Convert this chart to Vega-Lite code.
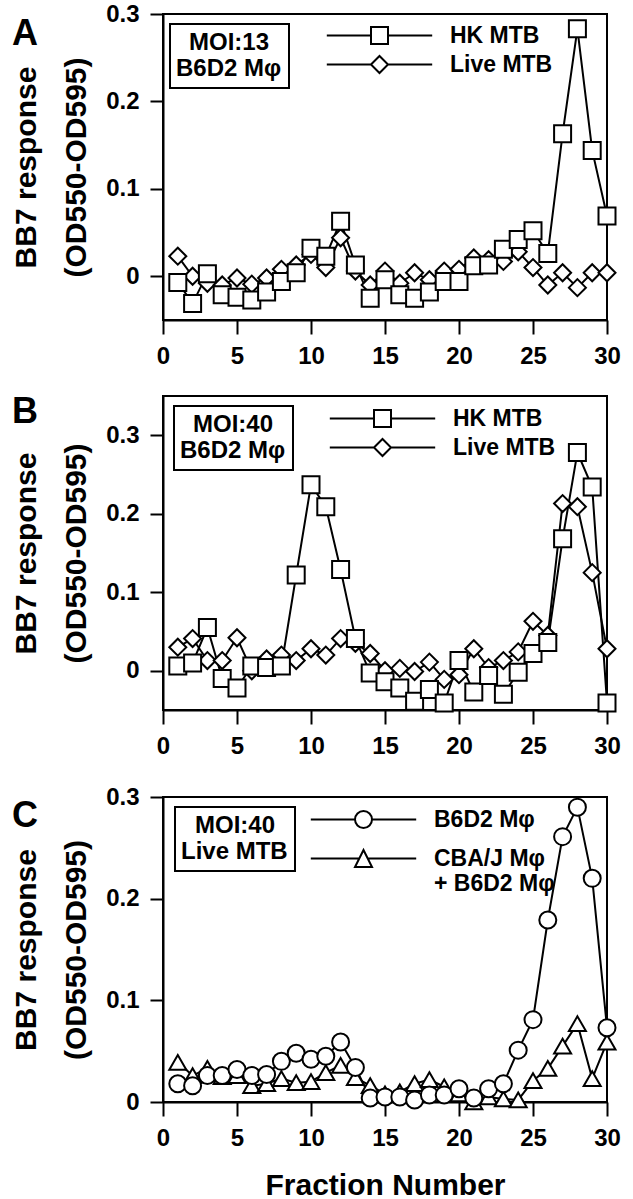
{
"$schema": "https://vega.github.io/schema/vega-lite/v6.json",
"background": "white",
"padding": {"top": 1, "left": 10, "right": 0, "bottom": 0},
"spacing": 25,
"config": {
  "font": "Liberation Sans",
  "view": {"stroke": "black", "strokeWidth": 2},
  "axis": {"domainColor": "black", "domainWidth": 2, "tickColor": "black", "tickWidth": 2, "labelColor": "black", "labelFont": "Liberation Sans", "labelFontSize": 24, "labelFontWeight": "bold", "titleFont": "Liberation Sans", "titleFontSize": 30, "titleFontWeight": "bold", "titleColor": "black", "grid": false, "labelFlush": false, "labelOverlap": false},
  "axisX": {"tickSize": 14, "labelPadding": 10},
  "axisY": {"tickSize": 13, "labelPadding": 11, "titlePadding": 14, "titleLineHeight": 50},
  "legend": {"labelFont": "Liberation Sans", "titleFont": "Liberation Sans", "labelColor": "black", "titleColor": "black", "labelFontWeight": "bold", "titleFontWeight": "bold", "strokeWidth": 2}
},
"datasets": {
  "panelA": [
    {"fraction": 1, "series": "Live MTB", "response": 0.023}, {"fraction": 2, "series": "Live MTB", "response": 0.000}, {"fraction": 3, "series": "Live MTB", "response": -0.008}, {"fraction": 4, "series": "Live MTB", "response": -0.010}, {"fraction": 5, "series": "Live MTB", "response": -0.002}, {"fraction": 6, "series": "Live MTB", "response": -0.009}, {"fraction": 7, "series": "Live MTB", "response": -0.002}, {"fraction": 8, "series": "Live MTB", "response": 0.008}, {"fraction": 9, "series": "Live MTB", "response": 0.013}, {"fraction": 10, "series": "Live MTB", "response": 0.025},
    {"fraction": 11, "series": "Live MTB", "response": 0.010}, {"fraction": 12, "series": "Live MTB", "response": 0.044}, {"fraction": 13, "series": "Live MTB", "response": 0.006}, {"fraction": 14, "series": "Live MTB", "response": -0.010}, {"fraction": 15, "series": "Live MTB", "response": 0.006}, {"fraction": 16, "series": "Live MTB", "response": -0.008}, {"fraction": 17, "series": "Live MTB", "response": 0.004}, {"fraction": 18, "series": "Live MTB", "response": -0.004}, {"fraction": 19, "series": "Live MTB", "response": 0.006}, {"fraction": 20, "series": "Live MTB", "response": 0.008},
    {"fraction": 21, "series": "Live MTB", "response": 0.021}, {"fraction": 22, "series": "Live MTB", "response": 0.019}, {"fraction": 23, "series": "Live MTB", "response": 0.017}, {"fraction": 24, "series": "Live MTB", "response": 0.028}, {"fraction": 25, "series": "Live MTB", "response": 0.010}, {"fraction": 26, "series": "Live MTB", "response": -0.010}, {"fraction": 27, "series": "Live MTB", "response": 0.004}, {"fraction": 28, "series": "Live MTB", "response": -0.013}, {"fraction": 29, "series": "Live MTB", "response": 0.004}, {"fraction": 30, "series": "Live MTB", "response": 0.004},
    {"fraction": 1, "series": "HK MTB", "response": -0.007}, {"fraction": 2, "series": "HK MTB", "response": -0.031}, {"fraction": 3, "series": "HK MTB", "response": 0.003}, {"fraction": 4, "series": "HK MTB", "response": -0.021}, {"fraction": 5, "series": "HK MTB", "response": -0.024}, {"fraction": 6, "series": "HK MTB", "response": -0.027}, {"fraction": 7, "series": "HK MTB", "response": -0.018}, {"fraction": 8, "series": "HK MTB", "response": -0.006}, {"fraction": 9, "series": "HK MTB", "response": 0.004}, {"fraction": 10, "series": "HK MTB", "response": 0.032},
    {"fraction": 11, "series": "HK MTB", "response": 0.023}, {"fraction": 12, "series": "HK MTB", "response": 0.063}, {"fraction": 13, "series": "HK MTB", "response": 0.013}, {"fraction": 14, "series": "HK MTB", "response": -0.025}, {"fraction": 15, "series": "HK MTB", "response": -0.004}, {"fraction": 16, "series": "HK MTB", "response": -0.021}, {"fraction": 17, "series": "HK MTB", "response": -0.025}, {"fraction": 18, "series": "HK MTB", "response": -0.018}, {"fraction": 19, "series": "HK MTB", "response": -0.006}, {"fraction": 20, "series": "HK MTB", "response": -0.006},
    {"fraction": 21, "series": "HK MTB", "response": 0.012}, {"fraction": 22, "series": "HK MTB", "response": 0.013}, {"fraction": 23, "series": "HK MTB", "response": 0.031}, {"fraction": 24, "series": "HK MTB", "response": 0.042}, {"fraction": 25, "series": "HK MTB", "response": 0.052}, {"fraction": 26, "series": "HK MTB", "response": 0.026}, {"fraction": 27, "series": "HK MTB", "response": 0.163}, {"fraction": 28, "series": "HK MTB", "response": 0.283}, {"fraction": 29, "series": "HK MTB", "response": 0.144}, {"fraction": 30, "series": "HK MTB", "response": 0.069}
  ],
  "panelB": [
    {"fraction": 1, "series": "Live MTB", "response": 0.030}, {"fraction": 2, "series": "Live MTB", "response": 0.041}, {"fraction": 3, "series": "Live MTB", "response": 0.013}, {"fraction": 4, "series": "Live MTB", "response": 0.013}, {"fraction": 5, "series": "Live MTB", "response": 0.042}, {"fraction": 6, "series": "Live MTB", "response": 0.000}, {"fraction": 7, "series": "Live MTB", "response": 0.015}, {"fraction": 8, "series": "Live MTB", "response": 0.020}, {"fraction": 9, "series": "Live MTB", "response": 0.013}, {"fraction": 10, "series": "Live MTB", "response": 0.028},
    {"fraction": 11, "series": "Live MTB", "response": 0.020}, {"fraction": 12, "series": "Live MTB", "response": 0.041}, {"fraction": 13, "series": "Live MTB", "response": 0.035}, {"fraction": 14, "series": "Live MTB", "response": 0.022}, {"fraction": 15, "series": "Live MTB", "response": 0.000}, {"fraction": 16, "series": "Live MTB", "response": 0.003}, {"fraction": 17, "series": "Live MTB", "response": -0.001}, {"fraction": 18, "series": "Live MTB", "response": 0.011}, {"fraction": 19, "series": "Live MTB", "response": -0.011}, {"fraction": 20, "series": "Live MTB", "response": -0.005},
    {"fraction": 21, "series": "Live MTB", "response": 0.028}, {"fraction": 22, "series": "Live MTB", "response": 0.004}, {"fraction": 23, "series": "Live MTB", "response": 0.013}, {"fraction": 24, "series": "Live MTB", "response": 0.024}, {"fraction": 25, "series": "Live MTB", "response": 0.063}, {"fraction": 26, "series": "Live MTB", "response": 0.045}, {"fraction": 27, "series": "Live MTB", "response": 0.213}, {"fraction": 28, "series": "Live MTB", "response": 0.209}, {"fraction": 29, "series": "Live MTB", "response": 0.125}, {"fraction": 30, "series": "Live MTB", "response": 0.028},
    {"fraction": 1, "series": "HK MTB", "response": 0.006}, {"fraction": 2, "series": "HK MTB", "response": 0.010}, {"fraction": 3, "series": "HK MTB", "response": 0.055}, {"fraction": 4, "series": "HK MTB", "response": -0.010}, {"fraction": 5, "series": "HK MTB", "response": -0.022}, {"fraction": 6, "series": "HK MTB", "response": 0.006}, {"fraction": 7, "series": "HK MTB", "response": 0.004}, {"fraction": 8, "series": "HK MTB", "response": 0.006}, {"fraction": 9, "series": "HK MTB", "response": 0.122}, {"fraction": 10, "series": "HK MTB", "response": 0.237},
    {"fraction": 11, "series": "HK MTB", "response": 0.209}, {"fraction": 12, "series": "HK MTB", "response": 0.129}, {"fraction": 13, "series": "HK MTB", "response": 0.041}, {"fraction": 14, "series": "HK MTB", "response": -0.003}, {"fraction": 15, "series": "HK MTB", "response": -0.014}, {"fraction": 16, "series": "HK MTB", "response": -0.022}, {"fraction": 17, "series": "HK MTB", "response": -0.039}, {"fraction": 18, "series": "HK MTB", "response": -0.024}, {"fraction": 19, "series": "HK MTB", "response": -0.041}, {"fraction": 20, "series": "HK MTB", "response": 0.013},
    {"fraction": 21, "series": "HK MTB", "response": -0.027}, {"fraction": 22, "series": "HK MTB", "response": -0.006}, {"fraction": 23, "series": "HK MTB", "response": -0.030}, {"fraction": 24, "series": "HK MTB", "response": -0.002}, {"fraction": 25, "series": "HK MTB", "response": 0.022}, {"fraction": 26, "series": "HK MTB", "response": 0.036}, {"fraction": 27, "series": "HK MTB", "response": 0.168}, {"fraction": 28, "series": "HK MTB", "response": 0.278}, {"fraction": 29, "series": "HK MTB", "response": 0.234}, {"fraction": 30, "series": "HK MTB", "response": -0.041}
  ],
  "panelC": [
    {"fraction": 1, "series": "CBA/J Mφ + B6D2 Mφ", "response": 0.039}, {"fraction": 2, "series": "CBA/J Mφ + B6D2 Mφ", "response": 0.026}, {"fraction": 3, "series": "CBA/J Mφ + B6D2 Mφ", "response": 0.033}, {"fraction": 4, "series": "CBA/J Mφ + B6D2 Mφ", "response": 0.025}, {"fraction": 5, "series": "CBA/J Mφ + B6D2 Mφ", "response": 0.026}, {"fraction": 6, "series": "CBA/J Mφ + B6D2 Mφ", "response": 0.016}, {"fraction": 7, "series": "CBA/J Mφ + B6D2 Mφ", "response": 0.018}, {"fraction": 8, "series": "CBA/J Mφ + B6D2 Mφ", "response": 0.023}, {"fraction": 9, "series": "CBA/J Mφ + B6D2 Mφ", "response": 0.019}, {"fraction": 10, "series": "CBA/J Mφ + B6D2 Mφ", "response": 0.020},
    {"fraction": 11, "series": "CBA/J Mφ + B6D2 Mφ", "response": 0.029}, {"fraction": 12, "series": "CBA/J Mφ + B6D2 Mφ", "response": 0.036}, {"fraction": 13, "series": "CBA/J Mφ + B6D2 Mφ", "response": 0.024}, {"fraction": 14, "series": "CBA/J Mφ + B6D2 Mφ", "response": 0.016}, {"fraction": 15, "series": "CBA/J Mφ + B6D2 Mφ", "response": 0.008}, {"fraction": 16, "series": "CBA/J Mφ + B6D2 Mφ", "response": 0.010}, {"fraction": 17, "series": "CBA/J Mφ + B6D2 Mφ", "response": 0.018}, {"fraction": 18, "series": "CBA/J Mφ + B6D2 Mφ", "response": 0.022}, {"fraction": 19, "series": "CBA/J Mφ + B6D2 Mφ", "response": 0.015}, {"fraction": 20, "series": "CBA/J Mφ + B6D2 Mφ", "response": 0.008},
    {"fraction": 21, "series": "CBA/J Mφ + B6D2 Mφ", "response": 0.000}, {"fraction": 22, "series": "CBA/J Mφ + B6D2 Mφ", "response": 0.005}, {"fraction": 23, "series": "CBA/J Mφ + B6D2 Mφ", "response": 0.003}, {"fraction": 24, "series": "CBA/J Mφ + B6D2 Mφ", "response": 0.002}, {"fraction": 25, "series": "CBA/J Mφ + B6D2 Mφ", "response": 0.021}, {"fraction": 26, "series": "CBA/J Mφ + B6D2 Mφ", "response": 0.033}, {"fraction": 27, "series": "CBA/J Mφ + B6D2 Mφ", "response": 0.055}, {"fraction": 28, "series": "CBA/J Mφ + B6D2 Mφ", "response": 0.077}, {"fraction": 29, "series": "CBA/J Mφ + B6D2 Mφ", "response": 0.023}, {"fraction": 30, "series": "CBA/J Mφ + B6D2 Mφ", "response": 0.059},
    {"fraction": 1, "series": "B6D2 Mφ", "response": 0.018}, {"fraction": 2, "series": "B6D2 Mφ", "response": 0.016}, {"fraction": 3, "series": "B6D2 Mφ", "response": 0.026}, {"fraction": 4, "series": "B6D2 Mφ", "response": 0.026}, {"fraction": 5, "series": "B6D2 Mφ", "response": 0.032}, {"fraction": 6, "series": "B6D2 Mφ", "response": 0.026}, {"fraction": 7, "series": "B6D2 Mφ", "response": 0.027}, {"fraction": 8, "series": "B6D2 Mφ", "response": 0.040}, {"fraction": 9, "series": "B6D2 Mφ", "response": 0.048}, {"fraction": 10, "series": "B6D2 Mφ", "response": 0.042},
    {"fraction": 11, "series": "B6D2 Mφ", "response": 0.045}, {"fraction": 12, "series": "B6D2 Mφ", "response": 0.059}, {"fraction": 13, "series": "B6D2 Mφ", "response": 0.034}, {"fraction": 14, "series": "B6D2 Mφ", "response": 0.004}, {"fraction": 15, "series": "B6D2 Mφ", "response": 0.005}, {"fraction": 16, "series": "B6D2 Mφ", "response": 0.005}, {"fraction": 17, "series": "B6D2 Mφ", "response": 0.002}, {"fraction": 18, "series": "B6D2 Mφ", "response": 0.007}, {"fraction": 19, "series": "B6D2 Mφ", "response": 0.007}, {"fraction": 20, "series": "B6D2 Mφ", "response": 0.013},
    {"fraction": 21, "series": "B6D2 Mφ", "response": 0.004}, {"fraction": 22, "series": "B6D2 Mφ", "response": 0.013}, {"fraction": 23, "series": "B6D2 Mφ", "response": 0.018}, {"fraction": 24, "series": "B6D2 Mφ", "response": 0.051}, {"fraction": 25, "series": "B6D2 Mφ", "response": 0.081}, {"fraction": 26, "series": "B6D2 Mφ", "response": 0.179}, {"fraction": 27, "series": "B6D2 Mφ", "response": 0.261}, {"fraction": 28, "series": "B6D2 Mφ", "response": 0.290}, {"fraction": 29, "series": "B6D2 Mφ", "response": 0.220}, {"fraction": 30, "series": "B6D2 Mφ", "response": 0.073}
  ]
},
"vconcat": [
  {
    "width": 444, "height": 306,
    "resolve": {"scale": {"shape": "independent"}, "legend": {"shape": "independent"}},
    "layer": [
      {"data": {"name": "panelA"}, "mark": {"type": "line", "color": "black", "strokeWidth": 2},
       "encoding": {
         "x": {"field": "fraction", "type": "quantitative", "scale": {"domain": [0, 30], "nice": false}, "axis": {"values": [0, 5, 10, 15, 20, 25, 30], "title": null}},
         "y": {"field": "response", "type": "quantitative", "scale": {"domain": [-0.05, 0.3], "nice": false, "zero": false}, "axis": {"values": [0, 0.1, 0.2, 0.3], "labelExpr": "datum.value === 0 ? '0' : format(datum.value, '.1f')", "title": ["BB7 response", "(OD550-OD595)"]}},
         "detail": {"field": "series"}}},
      {"data": {"name": "panelA"}, "mark": {"type": "point", "filled": true, "fill": "white", "stroke": "black", "strokeWidth": 2, "opacity": 1, "size": 289},
       "encoding": {
         "x": {"field": "fraction", "type": "quantitative"},
         "y": {"field": "response", "type": "quantitative"},
         "shape": {"field": "series", "type": "nominal", "scale": {"domain": ["HK MTB", "Live MTB"], "range": ["square", "diamond"]}, "legend": null}}},
      {"data": {"values": []}, "mark": {"type": "point", "filled": false, "color": "black", "strokeWidth": 2, "opacity": 1, "size": 289},
       "encoding": {
         "shape": {"field": "series", "type": "nominal", "scale": {"domain": ["HK MTB", "Live MTB"], "range": ["M-6.2,0H-1M1,0H6.2M-1,-1H1V1H-1Z", "M-6.2,0H-1M1,0H6.2M-1,0L0,-1L1,0L0,1Z"]},
           "legend": {"orient": "none", "legendX": 205, "legendY": 10, "title": null, "padding": 0, "labelFontSize": 23, "labelOffset": 59, "rowPadding": 4, "symbolSize": 289, "symbolStrokeWidth": 2, "symbolStrokeColor": "black", "symbolOpacity": 1}}}},
      {"data": {"values": []}, "mark": {"type": "point", "opacity": 0},
       "encoding": {
         "fill": {"field": "cells", "type": "nominal", "scale": {"domain": ["B6D2 Mφ"], "range": ["white"]},
           "legend": {"orient": "none", "legendX": 7, "legendY": 10, "title": "MOI:13", "titleFontSize": 24, "titleAnchor": "middle", "titleAlign": "center", "titlePadding": 2, "labelFontSize": 24, "symbolSize": 1, "symbolOpacity": 0, "labelOffset": -25, "padding": 7, "strokeColor": "black"}},
         "stroke": {"field": "panel", "type": "nominal", "scale": {"domain": ["A"], "range": ["black"]},
           "legend": {"orient": "none", "legendX": -151, "legendY": 3, "title": "A", "titleFontSize": 36, "titlePadding": 0, "padding": 0, "labelExpr": "''", "labelFontSize": 1, "symbolSize": 1, "symbolOpacity": 0}}}}
    ]
  },
  {
    "width": 444, "height": 314,
    "resolve": {"scale": {"shape": "independent"}, "legend": {"shape": "independent"}},
    "layer": [
      {"data": {"name": "panelB"}, "mark": {"type": "line", "color": "black", "strokeWidth": 2},
       "encoding": {
         "x": {"field": "fraction", "type": "quantitative", "scale": {"domain": [0, 30], "nice": false}, "axis": {"values": [0, 5, 10, 15, 20, 25, 30], "title": null}},
         "y": {"field": "response", "type": "quantitative", "scale": {"domain": [-0.05, 0.35], "nice": false, "zero": false}, "axis": {"values": [0, 0.1, 0.2, 0.3], "labelExpr": "datum.value === 0 ? '0' : format(datum.value, '.1f')", "title": ["BB7 response", "(OD550-OD595)"]}},
         "detail": {"field": "series"}}},
      {"data": {"name": "panelB"}, "mark": {"type": "point", "filled": true, "fill": "white", "stroke": "black", "strokeWidth": 2, "opacity": 1, "size": 289},
       "encoding": {
         "x": {"field": "fraction", "type": "quantitative"},
         "y": {"field": "response", "type": "quantitative"},
         "shape": {"field": "series", "type": "nominal", "scale": {"domain": ["HK MTB", "Live MTB"], "range": ["square", "diamond"]}, "legend": null}}},
      {"data": {"values": []}, "mark": {"type": "point", "filled": false, "color": "black", "strokeWidth": 2, "opacity": 1, "size": 289},
       "encoding": {
         "shape": {"field": "series", "type": "nominal", "scale": {"domain": ["HK MTB", "Live MTB"], "range": ["M-6.2,0H-1M1,0H6.2M-1,-1H1V1H-1Z", "M-6.2,0H-1M1,0H6.2M-1,0L0,-1L1,0L0,1Z"]},
           "legend": {"orient": "none", "legendX": 208, "legendY": 11, "title": null, "padding": 0, "labelFontSize": 23, "labelOffset": 59, "rowPadding": 4, "symbolSize": 289, "symbolStrokeWidth": 2, "symbolStrokeColor": "black", "symbolOpacity": 1}}}},
      {"data": {"values": []}, "mark": {"type": "point", "opacity": 0},
       "encoding": {
         "fill": {"field": "cells", "type": "nominal", "scale": {"domain": ["B6D2 Mφ"], "range": ["white"]},
           "legend": {"orient": "none", "legendX": 11, "legendY": 10, "title": "MOI:40", "titleFontSize": 24, "titleAnchor": "middle", "titleAlign": "center", "titlePadding": 2, "labelFontSize": 24, "symbolSize": 1, "symbolOpacity": 0, "labelOffset": -25, "padding": 7, "strokeColor": "black"}},
         "stroke": {"field": "panel", "type": "nominal", "scale": {"domain": ["B"], "range": ["black"]},
           "legend": {"orient": "none", "legendX": -151, "legendY": -1, "title": "B", "titleFontSize": 36, "titlePadding": 0, "padding": 0, "labelExpr": "''", "labelFontSize": 1, "symbolSize": 1, "symbolOpacity": 0}}}}
    ]
  },
  {
    "width": 444, "height": 305,
    "resolve": {"scale": {"shape": "independent"}, "legend": {"shape": "independent"}},
    "layer": [
      {"data": {"name": "panelC"}, "mark": {"type": "line", "color": "black", "strokeWidth": 2},
       "encoding": {
         "x": {"field": "fraction", "type": "quantitative", "scale": {"domain": [0, 30], "nice": false}, "axis": {"values": [0, 5, 10, 15, 20, 25, 30], "title": "Fraction Number", "titlePadding": 20}},
         "y": {"field": "response", "type": "quantitative", "scale": {"domain": [0, 0.3], "nice": false, "zero": false}, "axis": {"values": [0, 0.1, 0.2, 0.3], "labelExpr": "datum.value === 0 ? '0' : format(datum.value, '.1f')", "title": ["BB7 response", "(OD550-OD595)"]}},
         "detail": {"field": "series"}}},
      {"data": {"name": "panelC"}, "mark": {"type": "point", "filled": true, "fill": "white", "stroke": "black", "strokeWidth": 2, "opacity": 1, "size": 289},
       "encoding": {
         "x": {"field": "fraction", "type": "quantitative"},
         "y": {"field": "response", "type": "quantitative"},
         "shape": {"field": "series", "type": "nominal", "scale": {"domain": ["B6D2 Mφ", "CBA/J Mφ + B6D2 Mφ"], "range": ["circle", "triangle-up"]}, "legend": null}}},
      {"data": {"values": []}, "mark": {"type": "point", "filled": false, "color": "black", "strokeWidth": 2, "opacity": 1, "size": 289},
       "encoding": {
         "shape": {"field": "series", "type": "nominal", "scale": {"domain": ["B6D2 Mφ", "CBA/J Mφ + B6D2 Mφ"], "range": ["M-6.2,0H-1M1,0H6.2M-1,0A1,1,0,1,0,1,0A1,1,0,1,0,-1,0Z", "M-6.2,0H-0.5M0.5,0H6.2M0,-1L1,1H-1Z"]},
           "legend": {"orient": "none", "legendX": 189, "legendY": 11, "title": null, "padding": 0, "labelFontSize": 23, "labelOffset": 59, "rowPadding": 14, "symbolSize": 289, "symbolStrokeWidth": 2, "symbolStrokeColor": "black", "symbolOpacity": 1,
             "labelExpr": "datum.label === 'CBA/J Mφ + B6D2 Mφ' ? ['CBA/J Mφ', '+ B6D2 Mφ'] : datum.label"}}}},
      {"data": {"values": []}, "mark": {"type": "point", "opacity": 0},
       "encoding": {
         "fill": {"field": "cells", "type": "nominal", "scale": {"domain": ["Live MTB"], "range": ["white"]},
           "legend": {"orient": "none", "legendX": 12, "legendY": 10, "title": "MOI:40", "titleFontSize": 24, "titleAnchor": "middle", "titleAlign": "center", "titlePadding": 2, "labelFontSize": 24, "symbolSize": 1, "symbolOpacity": 0, "labelOffset": -25, "padding": 7, "strokeColor": "black"}},
         "stroke": {"field": "panel", "type": "nominal", "scale": {"domain": ["C"], "range": ["black"]},
           "legend": {"orient": "none", "legendX": -151, "legendY": 2, "title": "C", "titleFontSize": 36, "titlePadding": 0, "padding": 0, "labelExpr": "''", "labelFontSize": 1, "symbolSize": 1, "symbolOpacity": 0}}}}
    ]
  }
],
"resolve": {"scale": {"shape": "independent", "fill": "independent", "stroke": "independent", "x": "independent", "y": "independent"}, "legend": {"shape": "independent", "fill": "independent", "stroke": "independent"}}
}
